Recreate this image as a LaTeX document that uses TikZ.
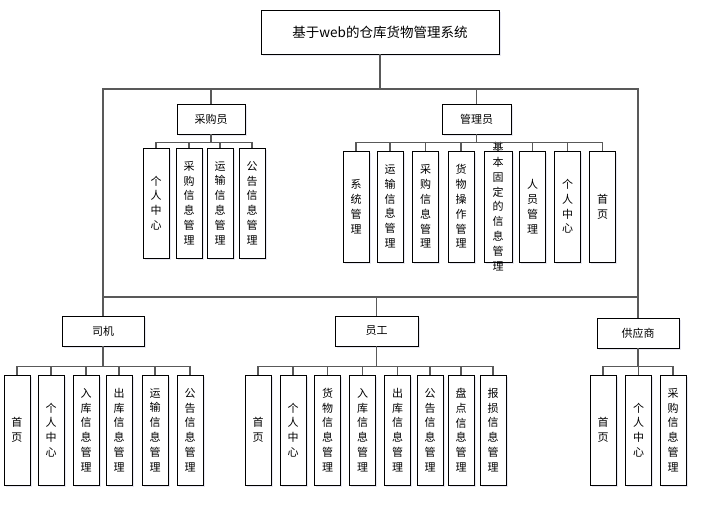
\documentclass[tikz,border=0pt]{standalone}
\usepackage{fontspec}
\newfontfamily\cjk{Noto Sans CJK SC}
\usetikzlibrary{shadows}
\begin{document}
\begin{tikzpicture}[x=1pt,y=-1pt,
  box/.style={draw=black, line width=0.95pt, fill=white, inner sep=0pt,
    drop shadow={shadow xshift=1.5pt, shadow yshift=-1.5pt, fill=blue!30!gray!40, opacity=0.35},
    font=\cjk\fontsize{11}{12}\selectfont},
  head/.style={box, minimum height=30pt},
  leaf/.style={box, minimum width=26pt, minimum height=110pt, align=center,
    font=\cjk\fontsize{11}{14.8}\selectfont},
  vtext/.style={inner sep=0pt, align=center, font=\cjk\fontsize{11}{14.8}\selectfont},
  link/.style={draw=black!65, line width=1.2pt}]
\useasboundingbox (0,0) rectangle (728,506);
% root
\node[box, minimum width=238pt, minimum height=44pt, font=\cjk\fontsize{13.5}{15}\selectfont] (root) at (380,32) {基于web的仓库货物管理系统};
% second level
\node[head, minimum width=68pt] (cg) at (211,119) {采购员};
\node[head, minimum width=69pt] (gl) at (476.5,119) {管理员};
\node[head, minimum width=82pt] (sj) at (103,331) {司机};
\node[head, minimum width=83pt] (yg) at (376.5,331) {员工};
\node[head, minimum width=82pt] (gy) at (638,333) {供应商};
% 采购员 children
\node[leaf] (cg1) at (156,203) {个\\人\\中\\心};
\node[leaf] (cg2) at (189,203) {采\\购\\信\\息\\管\\理};
\node[leaf] (cg3) at (220,203) {运\\输\\信\\息\\管\\理};
\node[leaf] (cg4) at (252,203) {公\\告\\信\\息\\管\\理};
% 管理员 children
\node[leaf, minimum height=111pt] (gl1) at (356,206.5) {系\\统\\管\\理};
\node[leaf, minimum height=111pt] (gl2) at (390,206.5) {运\\输\\信\\息\\管\\理};
\node[leaf, minimum height=111pt] (gl3) at (425.5,206.5) {采\\购\\信\\息\\管\\理};
\node[leaf, minimum height=111pt] (gl4) at (461,206.5) {货\\物\\操\\作\\管\\理};
\node[leaf, minimum height=111pt, minimum width=28pt] (gl5) at (498,206.5) {};
\node[vtext] (gl5t) at (gl5.center) {基\\本\\固\\定\\的\\信\\息\\管\\理};
\node[leaf, minimum height=111pt] (gl6) at (532.5,206.5) {人\\员\\管\\理};
\node[leaf, minimum height=111pt] (gl7) at (567.5,206.5) {个\\人\\中\\心};
\node[leaf, minimum height=111pt] (gl8) at (602.5,206.5) {首\\页};
% 司机 children
\node[leaf] (sj1) at (17,430) {首\\页};
\node[leaf] (sj2) at (51,430) {个\\人\\中\\心};
\node[leaf] (sj3) at (86,430) {入\\库\\信\\息\\管\\理};
\node[leaf] (sj4) at (119,430) {出\\库\\信\\息\\管\\理};
\node[leaf] (sj5) at (155,430) {运\\输\\信\\息\\管\\理};
\node[leaf] (sj6) at (190,430) {公\\告\\信\\息\\管\\理};
% 员工 children
\node[leaf] (yg1) at (258,430) {首\\页};
\node[leaf] (yg2) at (293,430) {个\\人\\中\\心};
\node[leaf] (yg3) at (327.5,430) {货\\物\\信\\息\\管\\理};
\node[leaf] (yg4) at (362.5,430) {入\\库\\信\\息\\管\\理};
\node[leaf] (yg5) at (397.5,430) {出\\库\\信\\息\\管\\理};
\node[leaf] (yg6) at (430,430) {公\\告\\信\\息\\管\\理};
\node[leaf] (yg7) at (461,430) {盘\\点\\信\\息\\管\\理};
\node[leaf] (yg8) at (493,430) {报\\损\\信\\息\\管\\理};
% 供应商 children
\node[leaf] (gy1) at (603,430) {首\\页};
\node[leaf] (gy2) at (638.5,430) {个\\人\\中\\心};
\node[leaf] (gy3) at (673,430) {采\\购\\信\\息\\管\\理};
% top-level routing
\coordinate (busTop) at (380,89);
\coordinate (busBot) at (380,297);
\draw[link] (root.south) -- (root.south |- busTop);
\draw[link] (root.south |- busTop) -| (cg.north);
\draw[link] (root.south |- busTop) -| (gl.north);
\draw[link] (root.south |- busTop) -| (sj.north);
\draw[link] (root.south |- busTop) -| (gy.north);
\draw[link] (sj.north |- busBot) -- (gy.north |- busBot);
\draw[link] (yg.north |- busBot) -- (yg.north);
% child routing
\foreach \i in {1,...,4} \draw[link] (cg.south) -- ++(0,8) -| (cg\i.north);
\foreach \i in {1,...,8} \draw[link] (gl.south) -- ++(0,8) -| (gl\i.north);
\foreach \i in {1,...,6} \draw[link] (sj.south) -- ++(0,20) -| (sj\i.north);
\foreach \i in {1,...,8} \draw[link] (yg.south) -- ++(0,20) -| (yg\i.north);
\foreach \i in {1,...,3} \draw[link] (gy.south) -- ++(0,18) -| (gy\i.north);
\end{tikzpicture}
\end{document}
